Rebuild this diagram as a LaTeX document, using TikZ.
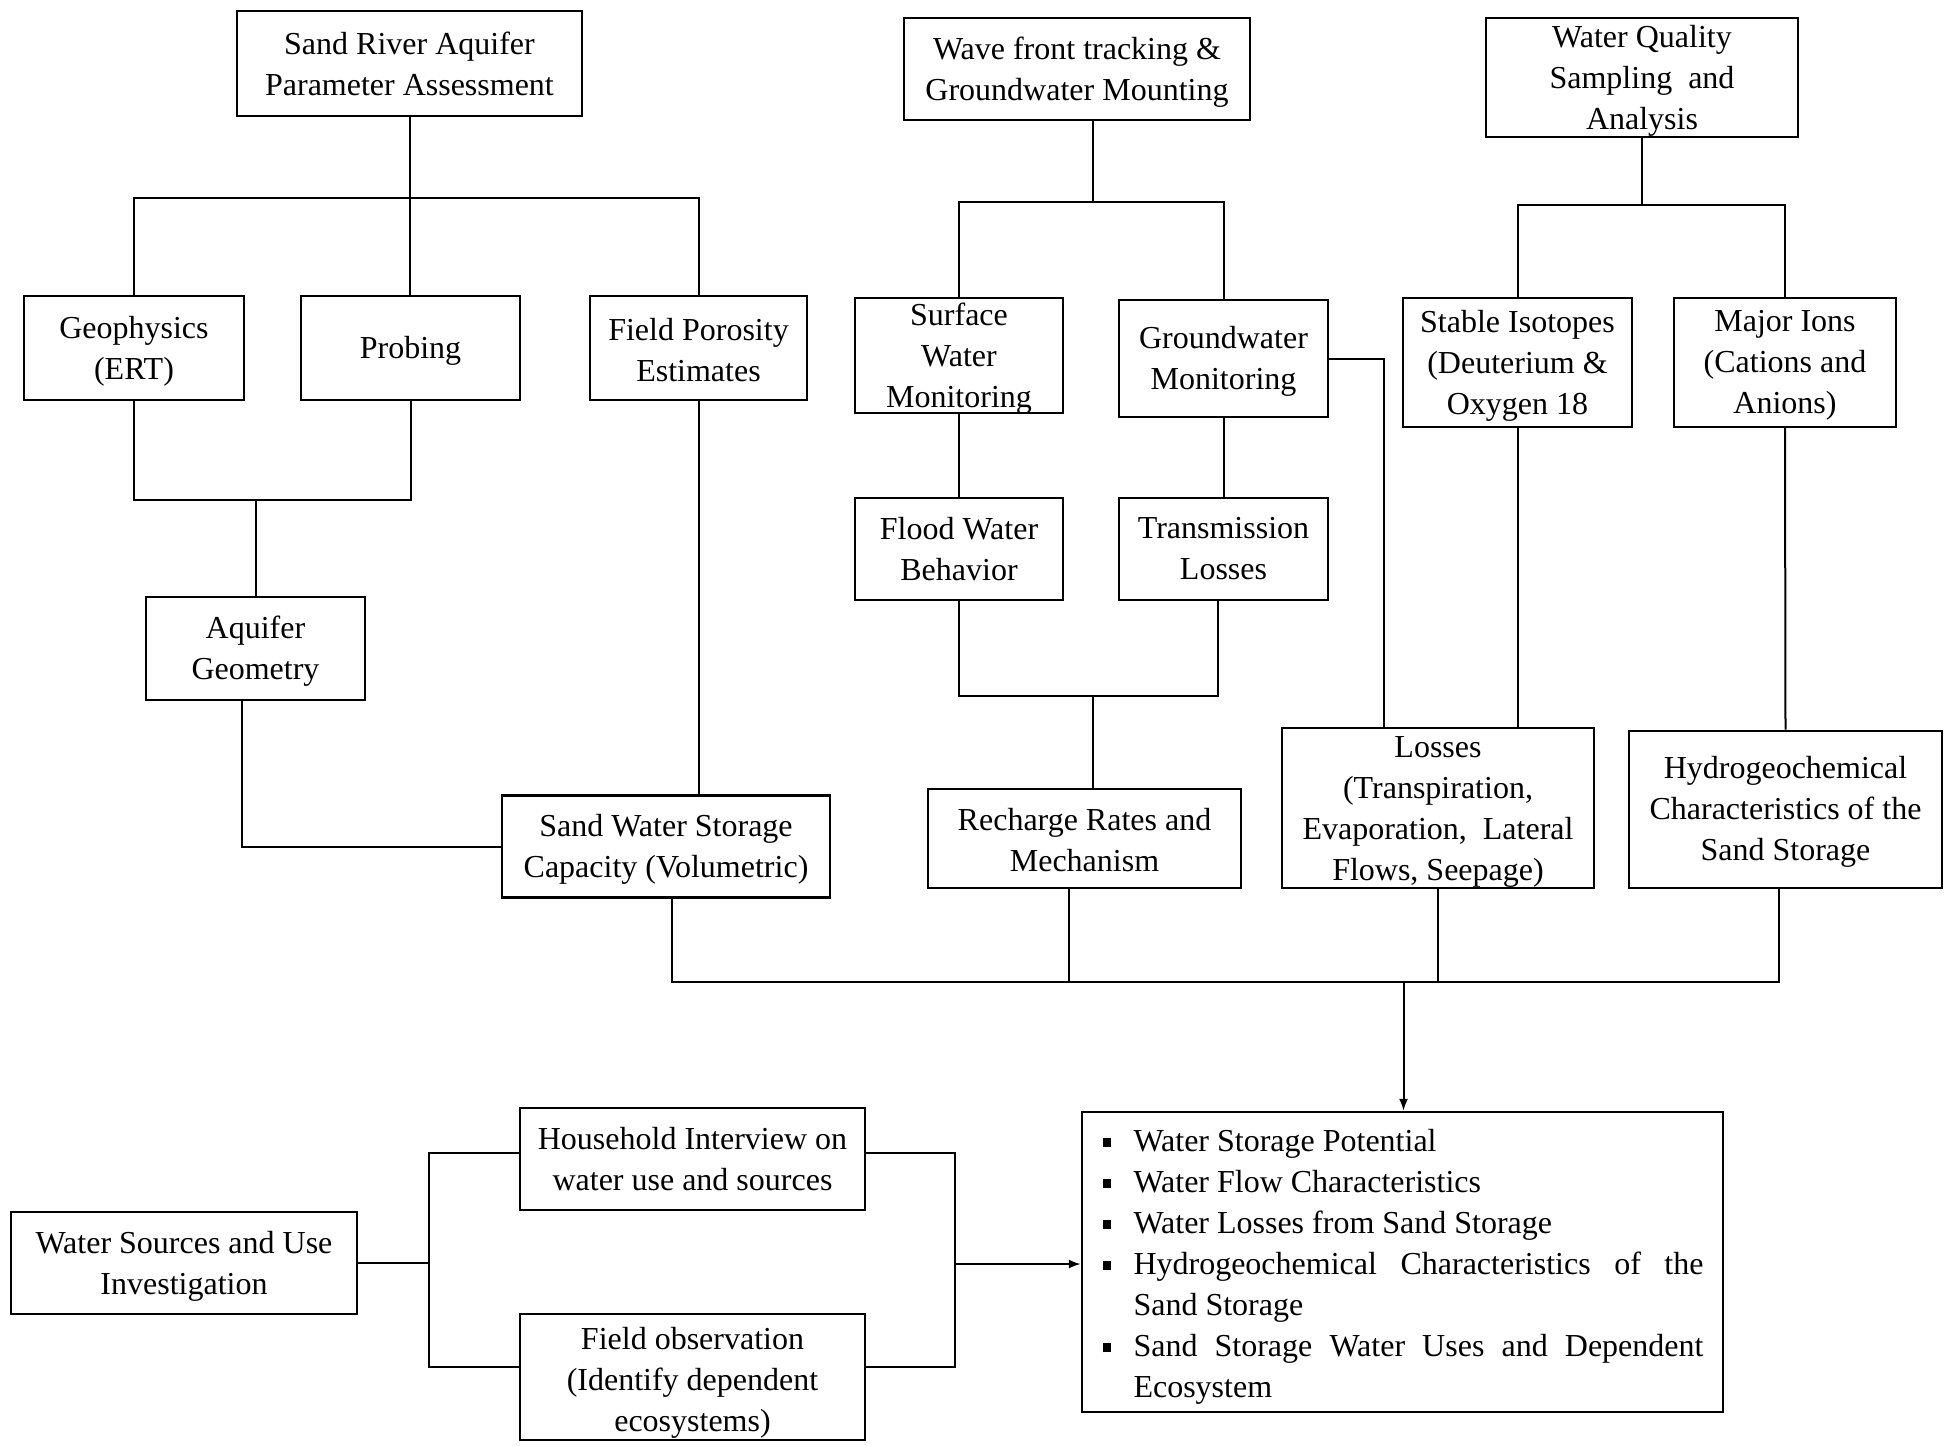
\documentclass[tikz,border=0pt]{standalone}
\usepackage{fontspec}
\setmainfont{Liberation Serif}
\usetikzlibrary{arrows.meta}
\newcommand{\resitem}[1]{\par\hangindent=16pt\hangafter=1\noindent\makebox[16pt][l]{\hspace{0.5pt}\rule[1.8pt]{4pt}{4.5pt}}#1\par}
% name, x, y, width, height, text shift, text
\newcommand{\bx}[7]{%
  \node[frame, minimum width=#4, minimum height=#5] (#1) at (#2,#3) {};
  \node[btext] (#1-t) at ([yshift=#6]#1.center) {#7};}
\begin{document}
\begin{tikzpicture}[x=0.5pt,y=-0.5pt,
  frame/.style={draw, line width=1.2pt, inner sep=0pt},
  btext/.style={align=center, inner sep=0pt, font=\fontsize{16}{20.5}\selectfont},
  conn/.style={line width=1pt},
  arr/.style={line width=1pt, -{Latex[length=6pt,width=4.5pt]}}]
\fill[white] (0,0) rectangle (1950,1446);
\useasboundingbox (0,0) rectangle (1950,1446);

% --- boxes ---
\bx{sra}{409.5}{63.5}{172.5pt}{52.5pt}{0pt}{Sand River Aquifer\\Parameter Assessment}
\bx{geo}{134}{348}{110pt}{52pt}{-1.5pt}{Geophysics\\(ERT)}
\bx{prob}{410.5}{348}{109.5pt}{52pt}{-1.5pt}{Probing}
\bx{fpe}{698.5}{348}{108.5pt}{52pt}{-1pt}{Field Porosity\\Estimates}
\bx{aq}{255.5}{648.5}{109.5pt}{51.5pt}{-1.5pt}{Aquifer\\Geometry}
\bx{sws}{666}{846.5}{164pt}{51pt}{-1.5pt}{Sand Water Storage\\Capacity (Volumetric)}

\bx{wft}{1077}{69}{173pt}{51pt}{-1.5pt}{Wave front tracking \&\\Groundwater Mounting}
\bx{sw}{959}{355.5}{104pt}{57.5pt}{-1.5pt}{Surface\\Water\\Monitoring}
\bx{gw}{1223.5}{358.5}{104.5pt}{58.5pt}{-1.5pt}{Groundwater\\Monitoring}
\bx{flood}{959}{549}{104pt}{51pt}{0pt}{Flood Water\\Behavior}
\bx{trans}{1223.5}{549}{104.5pt}{51pt}{0pt}{Transmission\\Losses}
\bx{rech}{1084.5}{838.5}{156.5pt}{49.5pt}{-1pt}{Recharge Rates and\\Mechanism}

\bx{wq}{1642}{77.5}{156pt}{59.5pt}{-1.5pt}{Water Quality\\Sampling\ \ and\\Analysis}
\bx{si}{1517.5}{362.5}{114.5pt}{64.5pt}{-1.5pt}{Stable Isotopes\\(Deuterium \&\\Oxygen 18}
\bx{mi}{1785}{362.5}{111pt}{64.5pt}{-1.5pt}{Major Ions\\(Cations and\\Anions)}
\bx{loss}{1438}{808}{156pt}{80pt}{-2pt}{Losses\\(Transpiration,\\Evaporation,\ \ Lateral\\Flows, Seepage)}
\bx{hyd}{1785.5}{809.3}{156.5pt}{78.5pt}{-1.5pt}{Hydrogeochemical\\Characteristics of the\\Sand Storage}

\node[frame, minimum width=320.5pt, minimum height=150pt] (res) at (1402.5,1262) {};
\node[text width=301pt, inner sep=0pt, align=justify, font=\fontsize{16}{20.5}\selectfont] (res-t) at ([yshift=2.5pt]res.center) {%
\resitem{Water Storage Potential}%
\resitem{Water Flow Characteristics}%
\resitem{Water Losses from Sand Storage}%
\resitem{Hydrogeochemical Characteristics of the\linebreak Sand Storage}%
\resitem{Sand Storage Water Uses and Dependent\linebreak Ecosystem}};

\bx{wsu}{184}{1263}{173pt}{51pt}{-1.5pt}{Water Sources and Use\\Investigation}
\bx{hh}{692.5}{1159}{172.5pt}{51pt}{0pt}{Household Interview on\\water use and sources}
\bx{fo}{692.5}{1377}{172.5pt}{63pt}{-3pt}{Field observation\\(Identify dependent\\ecosystems)}

% --- junction points ---
\coordinate (b1) at (409.5,198);
\coordinate (b2) at (255.5,500);
\coordinate (b3) at (1403.5,982);
\coordinate (b4) at (1093,202);
\coordinate (b5) at (1093,695.5);
\coordinate (b6) at (1642,205);
\coordinate (b7) at (429,1263);
\coordinate (b7t) at (429,1153);
\coordinate (b7b) at (429,1367);
\coordinate (b8) at (955,1264);
\coordinate (b8t) at (955,1153);
\coordinate (b8b) at (955,1367);

% --- connectors: left group ---
\draw[conn] (sra.south) -- (b1);
\draw[conn] (geo.north) |- (b1) -| (fpe.north);
\draw[conn] (b1) -- (b1 |- prob.north);
\draw[conn] (geo.south) |- (b2) -| (prob.south);
\draw[conn] (b2) -- (aq.north);
\draw[conn] ([xshift=-6.75pt]aq.south) |- (sws.west);
\draw[conn] (fpe.south) -- (fpe.south |- sws.north);

% --- middle group ---
\draw[conn] ([xshift=8pt]wft.south) -- (b4);
\draw[conn] (sw.north) |- (b4) -| (gw.north);
\draw[conn] (sw.south) -- (flood.north);
\draw[conn] (gw.south) -- (trans.north);
\draw[conn] (flood.south) |- (b5) -| ([xshift=-2.75pt]trans.south);
\draw[conn] (b5) -- (b5 |- rech.north);
\draw[conn] (gw.east) -| ([xshift=-27pt]loss.north);

% --- right group ---
\draw[conn] (wq.south) -- (b6);
\draw[conn] (si.north) |- (b6) -| (mi.north);
\draw[conn] (si.south) -- (si.south |- loss.north);
\draw[conn] (mi.south) -- (hyd.north);

% --- bottom bus ---
\draw[conn] ([xshift=3pt]sws.south) |- (b3) -| ([xshift=-3.25pt]hyd.south);
\draw[conn] ([xshift=-7.75pt]rech.south) |- (b3);
\draw[conn] (loss.south) |- (b3);
\draw[arr] (b3) -- (b3 |- res.north);

% --- bottom-left group ---
\draw[conn] (wsu.east) -- (b7);
\draw[conn] (hh.west |- b7t) -- (b7t) -- (b7b) -- (fo.west |- b7b);
\draw[conn] (hh.east |- b8t) -- (b8t) -- (b8b) -- (fo.east |- b8b);
\draw[arr] (b8) -- (res.west |- b8);
\end{tikzpicture}
\end{document}
